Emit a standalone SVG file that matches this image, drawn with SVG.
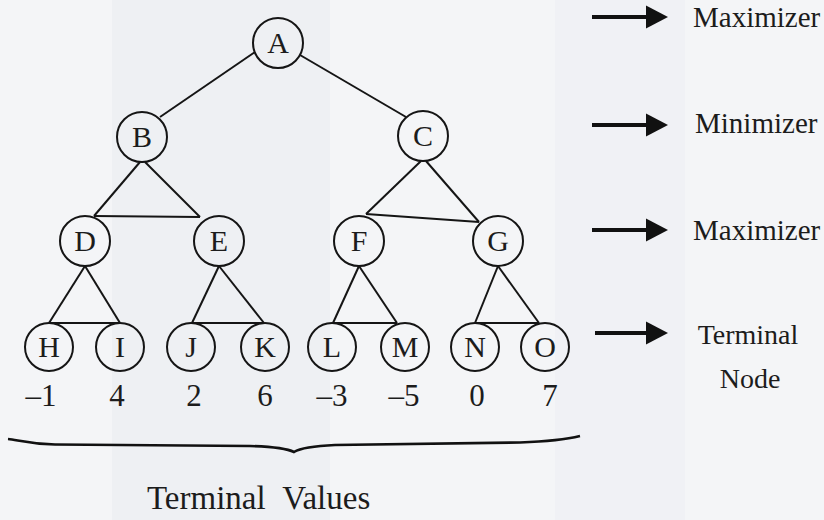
<svg xmlns="http://www.w3.org/2000/svg" width="824" height="520" viewBox="0 0 824 520">
<style>
.bg{fill:#f4f5f7}
.node circle{fill:none;stroke:#151515;stroke-width:2}
.node text{font-family:"Liberation Serif","DejaVu Serif",serif;font-size:30px;fill:#1c1c1c;text-anchor:middle}
.edge{stroke:#151515;stroke-width:2;fill:none}
.val{font-family:"Liberation Serif","DejaVu Serif",serif;font-size:31px;fill:#1c1c1c;text-anchor:middle}
.lab{font-family:"Liberation Serif","DejaVu Serif",serif;font-size:29px;fill:#1c1c1c}
.term{font-family:"Liberation Serif","DejaVu Serif",serif;font-size:28px;fill:#1c1c1c;text-anchor:middle}
.title{font-family:"Liberation Serif","DejaVu Serif",serif;font-size:33px;word-spacing:9px;fill:#1c1c1c}
.arrow{stroke:#111;stroke-width:4;marker-end:url(#head)}
</style>
<defs>
<marker id="head" markerUnits="userSpaceOnUse" markerWidth="24" markerHeight="26" refX="2" refY="12" orient="auto">
<polygon points="0,0.5 22,12 0,23.5" fill="#111"/>
</marker>
</defs>
<rect class="bg" x="0" y="0" width="824" height="520"/>
<rect x="112" y="0" width="218" height="520" fill="#eef0f3"/>
<rect x="555" y="0" width="130" height="520" fill="#f0f1f5"/>

<g id="connectors">
<line class="edge" x1="255" y1="52" x2="160" y2="117"/>
<line class="edge" x1="300" y1="55" x2="406" y2="117"/>
<line class="edge" x1="140" y1="162" x2="94" y2="216"/>
<line class="edge" x1="145" y1="162" x2="200" y2="217"/>
<line class="edge" x1="94" y1="216" x2="200" y2="217"/>
<line class="edge" x1="421" y1="161" x2="366" y2="214"/>
<line class="edge" x1="426" y1="161" x2="479" y2="222"/>
<line class="edge" x1="366" y1="214" x2="479" y2="222"/>
<line class="edge" x1="85" y1="266" x2="49" y2="323"/>
<line class="edge" x1="85" y1="266" x2="120" y2="323"/>
<line class="edge" x1="49" y1="323" x2="120" y2="323"/>
<line class="edge" x1="219" y1="266" x2="192" y2="323"/>
<line class="edge" x1="219" y1="266" x2="264" y2="323"/>
<line class="edge" x1="192" y1="323" x2="264" y2="323"/>
<line class="edge" x1="359" y1="266" x2="333" y2="323"/>
<line class="edge" x1="359" y1="266" x2="397" y2="323"/>
<line class="edge" x1="333" y1="323" x2="397" y2="323"/>
<line class="edge" x1="498" y1="266" x2="475" y2="323"/>
<line class="edge" x1="498" y1="266" x2="539" y2="323"/>
<line class="edge" x1="475" y1="323" x2="539" y2="323"/>
</g>

<g id="A" class="node"><circle cx="278" cy="43" r="25"/><text x="278" y="53">A</text></g>
<g id="B" class="node"><circle cx="142" cy="137" r="25"/><text x="142" y="147">B</text></g>
<g id="C" class="node"><circle cx="423" cy="136" r="25"/><text x="423" y="146">C</text></g>
<g id="D" class="node"><circle cx="85" cy="241" r="25"/><text x="85" y="251">D</text></g>
<g id="E" class="node"><circle cx="219" cy="241" r="25"/><text x="219" y="251">E</text></g>
<g id="F" class="node"><circle cx="359" cy="241" r="25"/><text x="359" y="251">F</text></g>
<g id="G" class="node"><circle cx="498" cy="241" r="25"/><text x="498" y="251">G</text></g>
<g id="H" class="node"><circle cx="49" cy="347" r="24"/><text x="49" y="357">H</text></g>
<g id="I" class="node"><circle cx="120" cy="347" r="24"/><text x="120" y="357">I</text></g>
<g id="J" class="node"><circle cx="191" cy="347" r="24"/><text x="191" y="357">J</text></g>
<g id="K" class="node"><circle cx="265" cy="347" r="24"/><text x="265" y="357">K</text></g>
<g id="L" class="node"><circle cx="332" cy="347" r="24"/><text x="332" y="357">L</text></g>
<g id="M" class="node"><circle cx="405" cy="347" r="24"/><text x="405" y="357">M</text></g>
<g id="N" class="node"><circle cx="475" cy="347" r="24"/><text x="475" y="357">N</text></g>
<g id="O" class="node"><circle cx="545" cy="347" r="24"/><text x="545" y="357">O</text></g>

<g id="values">
<text class="val" x="41" y="406">–1</text>
<text class="val" x="117" y="406">4</text>
<text class="val" x="194" y="406">2</text>
<text class="val" x="265" y="406">6</text>
<text class="val" x="332" y="406">–3</text>
<text class="val" x="404" y="406">–5</text>
<text class="val" x="477" y="406">0</text>
<text class="val" x="550" y="406">7</text>
</g>

<g id="brace">
<path d="M8,439 C18,440 28,444 55,444.5 L250,446 Q284,447 294,452 Q303,446.5 335,445 L520,442.5 Q560,441 580,436" fill="none" stroke="#111" stroke-width="2.6"/>
<text class="title" x="147" y="509">Terminal Values</text>
</g>

<g id="legend">
<line class="arrow" x1="592" y1="17" x2="648" y2="17"/>
<line class="arrow" x1="592" y1="125" x2="648" y2="125"/>
<line class="arrow" x1="592" y1="230" x2="648" y2="230"/>
<line class="arrow" x1="595" y1="333" x2="648" y2="333"/>
<text class="lab" x="693" y="27">Maximizer</text>
<text class="lab" x="695" y="133">Minimizer</text>
<text class="lab" x="693" y="240">Maximizer</text>
<text class="term" x="748" y="344">Terminal</text>
<text class="term" x="750" y="388">Node</text>
</g>
</svg>
